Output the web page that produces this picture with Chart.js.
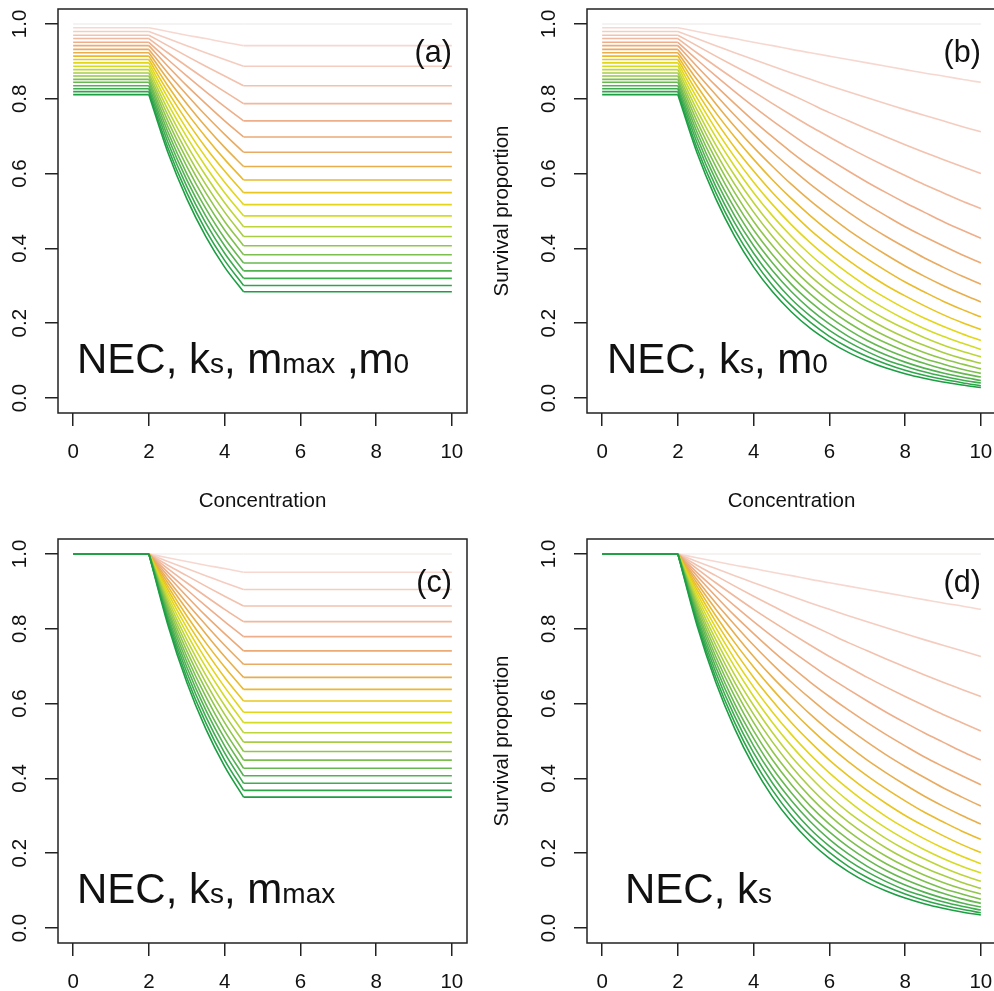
<!DOCTYPE html>
<html>
<head>
<meta charset="utf-8">
<script src="https://cdn.jsdelivr.net/npm/chart.js@4.4.1/dist/chart.umd.min.js"></script>
<style>
  html, body { margin: 0; padding: 0; background: #fff; overflow: hidden; }
  #page { position: relative; width: 994px; height: 991px; overflow: hidden; background: #fff; }
  canvas { position: absolute; }
</style>
</head>
<body>
<div id="page">
<canvas id="chartA" width="529" height="530" style="left:-45px;top:0px"></canvas>
<canvas id="chartB" width="529" height="530" style="left:484px;top:0px"></canvas>
<canvas id="chartC" width="529" height="530" style="left:-45px;top:530px"></canvas>
<canvas id="chartD" width="529" height="530" style="left:484px;top:530px"></canvas>
</div>
<script>
// concentrations where each curve was read
const concShort = [0, 2, 2.5, 3, 3.5, 4, 4.5, 10];
const concLong = [0, 2, 2.5, 3, 3.5, 4, 4.5, 5, 5.5, 6, 6.5, 7, 7.5, 8, 8.5, 9, 9.5, 10];

const xTicks = [0, 2, 4, 6, 8, 10];
const yTicks = [0, 0.2, 0.4, 0.6, 0.8, 1.0];

// survival proportion, one row per curve (times 0..21)
const survA = [
  [1, 1, 1, 1, 1, 1, 1, 1],
  [.990, .990, .980, .970, .961, .951, .942, .942],
  [.980, .980, .961, .942, .923, .905, .887, .887],
  [.970, .970, .942, .914, .887, .861, .835, .835],
  [.961, .961, .923, .887, .852, .819, .787, .787],
  [.951, .951, .905, .861, .819, .779, .741, .741],
  [.942, .942, .887, .835, .787, .741, .698, .698],
  [.932, .932, .869, .811, .756, .705, .657, .657],
  [.923, .923, .852, .787, .726, .670, .619, .619],
  [.914, .914, .835, .763, .698, .638, .583, .583],
  [.905, .905, .819, .741, .670, .607, .549, .549],
  [.896, .896, .803, .719, .644, .577, .517, .517],
  [.887, .887, .787, .698, .619, .549, .487, .487],
  [.878, .878, .771, .677, .595, .522, .458, .458],
  [.869, .869, .756, .657, .571, .497, .432, .432],
  [.861, .861, .741, .638, .549, .472, .407, .407],
  [.852, .852, .726, .619, .527, .449, .383, .383],
  [.844, .844, .712, .600, .507, .427, .361, .361],
  [.835, .835, .698, .583, .487, .407, .340, .340],
  [.827, .827, .684, .566, .468, .387, .320, .320],
  [.819, .819, .670, .549, .449, .368, .301, .301],
  [.811, .811, .657, .533, .432, .350, .284, .284]
];

const survB = [
  [1, 1, 1, 1, 1, 1, 1, 1, 1, 1, 1, 1, 1, 1, 1, 1, 1, 1],
  [.990, .990, .980, .970, .961, .951, .942, .932, .923, .914, .905, .896, .887, .878, .869, .861, .852, .844],
  [.980, .980, .961, .942, .923, .905, .887, .869, .852, .835, .819, .803, .787, .771, .756, .741, .726, .712],
  [.970, .970, .942, .914, .887, .861, .835, .811, .787, .763, .741, .719, .698, .677, .657, .638, .619, .600],
  [.961, .961, .923, .887, .852, .819, .787, .756, .726, .698, .670, .644, .619, .595, .571, .549, .527, .507],
  [.951, .951, .905, .861, .819, .779, .741, .705, .670, .638, .607, .577, .549, .522, .497, .472, .449, .427],
  [.942, .942, .887, .835, .787, .741, .698, .657, .619, .583, .549, .517, .487, .458, .432, .407, .383, .361],
  [.932, .932, .869, .811, .756, .705, .657, .613, .571, .533, .497, .463, .432, .403, .375, .350, .326, .304],
  [.923, .923, .852, .787, .726, .670, .619, .571, .527, .487, .449, .415, .383, .353, .326, .301, .278, .257],
  [.914, .914, .835, .763, .698, .638, .583, .533, .487, .445, .407, .372, .340, .310, .284, .259, .237, .217],
  [.905, .905, .819, .741, .670, .607, .549, .497, .449, .407, .368, .333, .301, .273, .247, .223, .202, .183],
  [.896, .896, .803, .719, .644, .577, .517, .463, .415, .372, .333, .298, .267, .239, .214, .192, .172, .154],
  [.887, .887, .787, .698, .619, .549, .487, .432, .383, .340, .301, .267, .237, .210, .186, .165, .147, .130],
  [.878, .878, .771, .677, .595, .522, .458, .403, .353, .310, .273, .239, .210, .185, .162, .142, .125, .110],
  [.869, .869, .756, .657, .571, .497, .432, .375, .326, .284, .247, .214, .186, .162, .141, .122, .106, .093],
  [.861, .861, .741, .638, .549, .472, .407, .350, .301, .259, .223, .192, .165, .142, .122, .105, .091, .078],
  [.852, .852, .726, .619, .527, .449, .383, .326, .278, .237, .202, .172, .147, .125, .106, .091, .077, .066],
  [.844, .844, .712, .600, .507, .427, .361, .304, .257, .217, .183, .154, .130, .110, .093, .078, .066, .056],
  [.835, .835, .698, .583, .487, .407, .340, .284, .237, .198, .165, .138, .115, .096, .080, .067, .056, .047],
  [.827, .827, .684, .566, .468, .387, .320, .264, .219, .181, .150, .124, .102, .085, .070, .058, .048, .040],
  [.819, .819, .670, .549, .449, .368, .301, .247, .202, .165, .135, .111, .091, .074, .061, .050, .041, .033],
  [.811, .811, .657, .533, .432, .350, .284, .230, .186, .151, .122, .099, .080, .065, .053, .043, .035, .028]
];

const survC = [
  [1, 1, 1, 1, 1, 1, 1, 1],
  [1, 1, .990, .980, .970, .961, .951, .951],
  [1, 1, .980, .961, .942, .923, .905, .905],
  [1, 1, .970, .942, .914, .887, .861, .861],
  [1, 1, .961, .923, .887, .852, .819, .819],
  [1, 1, .951, .905, .861, .819, .779, .779],
  [1, 1, .942, .887, .835, .787, .741, .741],
  [1, 1, .932, .869, .811, .756, .705, .705],
  [1, 1, .923, .852, .787, .726, .670, .670],
  [1, 1, .914, .835, .763, .698, .638, .638],
  [1, 1, .905, .819, .741, .670, .607, .607],
  [1, 1, .896, .803, .719, .644, .577, .577],
  [1, 1, .887, .787, .698, .619, .549, .549],
  [1, 1, .878, .771, .677, .595, .522, .522],
  [1, 1, .869, .756, .657, .571, .497, .497],
  [1, 1, .861, .741, .638, .549, .472, .472],
  [1, 1, .852, .726, .619, .527, .449, .449],
  [1, 1, .844, .712, .600, .507, .427, .427],
  [1, 1, .835, .698, .583, .487, .407, .407],
  [1, 1, .827, .684, .566, .468, .387, .387],
  [1, 1, .819, .670, .549, .449, .368, .368],
  [1, 1, .811, .657, .533, .432, .350, .350]
];

const survD = [
  [1, 1, 1, 1, 1, 1, 1, 1, 1, 1, 1, 1, 1, 1, 1, 1, 1, 1],
  [1, 1, .990, .980, .970, .961, .951, .942, .932, .923, .914, .905, .896, .887, .878, .869, .861, .852],
  [1, 1, .980, .961, .942, .923, .905, .887, .869, .852, .835, .819, .803, .787, .771, .756, .741, .726],
  [1, 1, .970, .942, .914, .887, .861, .835, .811, .787, .763, .741, .719, .698, .677, .657, .638, .619],
  [1, 1, .961, .923, .887, .852, .819, .787, .756, .726, .698, .670, .644, .619, .595, .571, .549, .527],
  [1, 1, .951, .905, .861, .819, .779, .741, .705, .670, .638, .607, .577, .549, .522, .497, .472, .449],
  [1, 1, .942, .887, .835, .787, .741, .698, .657, .619, .583, .549, .517, .487, .458, .432, .407, .383],
  [1, 1, .932, .869, .811, .756, .705, .657, .613, .571, .533, .497, .463, .432, .403, .375, .350, .326],
  [1, 1, .923, .852, .787, .726, .670, .619, .571, .527, .487, .449, .415, .383, .353, .326, .301, .278],
  [1, 1, .914, .835, .763, .698, .638, .583, .533, .487, .445, .407, .372, .340, .310, .284, .259, .237],
  [1, 1, .905, .819, .741, .670, .607, .549, .497, .449, .407, .368, .333, .301, .273, .247, .223, .202],
  [1, 1, .896, .803, .719, .644, .577, .517, .463, .415, .372, .333, .298, .267, .239, .214, .192, .172],
  [1, 1, .887, .787, .698, .619, .549, .487, .432, .383, .340, .301, .267, .237, .210, .186, .165, .147],
  [1, 1, .878, .771, .677, .595, .522, .458, .403, .353, .310, .273, .239, .210, .185, .162, .142, .125],
  [1, 1, .869, .756, .657, .571, .497, .432, .375, .326, .284, .247, .214, .186, .162, .141, .122, .106],
  [1, 1, .861, .741, .638, .549, .472, .407, .350, .301, .259, .223, .192, .165, .142, .122, .105, .091],
  [1, 1, .852, .726, .619, .527, .449, .383, .326, .278, .237, .202, .172, .147, .125, .106, .091, .077],
  [1, 1, .844, .712, .600, .507, .427, .361, .304, .257, .217, .183, .154, .130, .110, .093, .078, .066],
  [1, 1, .835, .698, .583, .487, .407, .340, .284, .237, .198, .165, .138, .115, .096, .080, .067, .056],
  [1, 1, .827, .684, .566, .468, .387, .320, .264, .219, .181, .150, .124, .102, .085, .070, .058, .048],
  [1, 1, .819, .670, .549, .449, .368, .301, .247, .202, .165, .135, .111, .091, .074, .061, .050, .041],
  [1, 1, .811, .657, .533, .432, .350, .284, .230, .186, .151, .122, .099, .080, .065, .053, .043, .035]
];

// pieces of each curve: [first index, last index, smooth?]
const piecesShort = [[0, 1, false], [1, 6, true], [6, 7, false]];
const piecesLong = [[0, 1, false], [1, 17, true]];

const lineColors = [
  '#f2eeee', '#f6d8d1', '#f4cdc0', '#f2c2ae', '#f0b89c', '#eeae8a',
  '#ebaa76', '#e9ab63', '#e8ae4c', '#eab92e', '#e8c61f', '#e3d61a',
  '#d4db25', '#bed53a', '#a8cd44', '#92c64a', '#7cbf4e', '#67b850',
  '#53b152', '#40ab50', '#2ea54b', '#1c9e43'
];

const family = '"Liberation Sans", Arial, Helvetica, sans-serif';
Chart.defaults.font.family = family;
const tickFont = { size: 20.5, family: family };

// box around the plot region (right side is cropped off in the right column), tag and model label
const panelText = {
  id: 'panelText',
  afterDraw(chart, args, opts) {
    const { ctx, chartArea: a } = chart;
    ctx.save();
    ctx.strokeStyle = '#222';
    ctx.lineWidth = 1.5;
    ctx.beginPath();
    if (opts.rightSide) {
      ctx.rect(a.left, a.top, a.right - a.left, a.bottom - a.top);
    } else {
      ctx.moveTo(a.right + 5, a.top);
      ctx.lineTo(a.left, a.top);
      ctx.lineTo(a.left, a.bottom);
      ctx.lineTo(a.right + 5, a.bottom);
    }
    ctx.stroke();
    ctx.fillStyle = '#111';
    ctx.textBaseline = 'alphabetic';
    ctx.font = '30.5px ' + family;
    ctx.textAlign = 'right';
    ctx.fillText(opts.tag, chart.scales.x.getPixelForValue(10), a.top + 53);
    ctx.textAlign = 'left';
    let x = a.left + opts.dx;
    for (const [s, size] of opts.formula) {
      ctx.font = size + 'px ' + family;
      ctx.fillText(s, x, a.bottom - 40);
      x += ctx.measureText(s).width;
    }
    ctx.restore();
  }
};

function makeChart(id, xs, rows, pieces, tag, formula, dx, rightSide) {
  const axisGrid = { drawOnChartArea: false, drawTicks: true, tickLength: 13, color: '#222', lineWidth: 1.5 };
  const datasets = [];
  rows.forEach((r, i) => {
    pieces.forEach(([from, to, smooth]) => {
      datasets.push({
        data: xs.slice(from, to + 1).map((x, k) => ({ x: x, y: r[from + k] })),
        borderColor: lineColors[i],
        borderWidth: 1.6,
        pointRadius: 0,
        tension: 0,
        cubicInterpolationMode: smooth ? 'monotone' : 'default',
        fill: false,
        order: rows.length - i
      });
    });
  });
  new Chart(document.getElementById(id), {
    type: 'line',
    data: { datasets: datasets },
    options: {
      responsive: false,
      animation: false,
      events: [],
      layout: { padding: { top: 9, right: 17, bottom: 0, left: 0 }, autoPadding: false },
      plugins: {
        legend: { display: false },
        tooltip: { enabled: false },
        panelText: { tag: tag, formula: formula, dx: dx, rightSide: rightSide }
      },
      scales: {
        x: {
          type: 'linear',
          min: -0.4,
          max: 10.4,
          afterBuildTicks: s => { s.ticks = xTicks.map(v => ({ value: v })); },
          afterFit: s => { s.height = 117; s.paddingLeft = 0; s.paddingRight = 0; },
          grid: axisGrid,
          border: { display: false },
          ticks: { padding: 14, font: tickFont, color: '#111', maxRotation: 0, autoSkip: false, callback: v => String(v) },
          title: { display: true, text: 'Concentration', font: tickFont, color: '#111', padding: { top: 0, bottom: 16 } }
        },
        y: {
          type: 'linear',
          min: -0.04,
          max: 1.04,
          afterBuildTicks: s => { s.ticks = yTicks.map(v => ({ value: v })); },
          afterFit: s => { s.width = 103; s.paddingTop = 0; s.paddingBottom = 0; },
          grid: axisGrid,
          border: { display: false },
          ticks: { padding: 10, font: tickFont, color: '#111', minRotation: 90, maxRotation: 90, crossAlign: 'center', autoSkip: false, callback: v => v.toFixed(1) },
          title: { display: true, text: 'Survival proportion', font: tickFont, color: '#111', padding: { top: 6, bottom: 0 } }
        }
      }
    },
    plugins: [panelText]
  });
}

makeChart('chartA', concShort, survA, piecesShort, '(a)',
  [['NEC, k', 42], ['s', 28], [', m', 42], ['max', 28], [' ,m', 42], ['0', 28]], 19, true);
makeChart('chartB', concLong, survB, piecesLong, '(b)',
  [['NEC, k', 42], ['s', 28], [', m', 42], ['0', 28]], 20, false);
makeChart('chartC', concShort, survC, piecesShort, '(c)',
  [['NEC, k', 42], ['s', 28], [', m', 42], ['max', 28]], 19, true);
makeChart('chartD', concLong, survD, piecesLong, '(d)',
  [['NEC, k', 42], ['s', 28]], 38, false);
</script>
</body>
</html>
